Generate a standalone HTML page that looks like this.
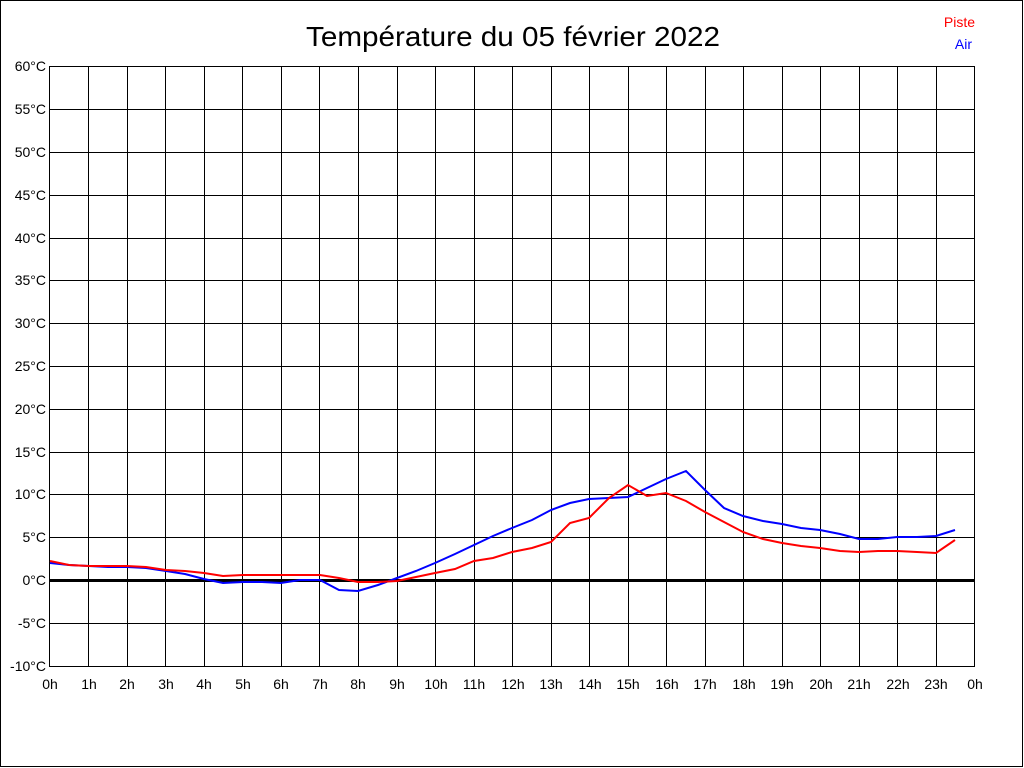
<!DOCTYPE html>
<html><head><meta charset="utf-8"><style>html,body{margin:0;padding:0;background:#fff}svg{display:block}</style></head>
<body>
<svg width="1024" height="768" viewBox="0 0 1024 768" xmlns="http://www.w3.org/2000/svg" font-family="Liberation Sans, Arial, sans-serif">
<rect x="0.5" y="0.5" width="1022" height="766" fill="#fff" stroke="#000" stroke-width="1"/>
<text x="513" y="46" font-size="28" text-anchor="middle" textLength="414" lengthAdjust="spacingAndGlyphs">Température du 05 février 2022</text>
<text x="975" y="27" font-size="14" fill="#f00" text-anchor="end">Piste</text>
<text x="972" y="49" font-size="14" fill="#00f" text-anchor="end">Air</text>
<g stroke="#000" stroke-width="1" shape-rendering="crispEdges">
<line x1="49.5" y1="66" x2="49.5" y2="666"/>
<line x1="88.5" y1="66" x2="88.5" y2="666"/>
<line x1="127.5" y1="66" x2="127.5" y2="666"/>
<line x1="165.5" y1="66" x2="165.5" y2="666"/>
<line x1="204.5" y1="66" x2="204.5" y2="666"/>
<line x1="242.5" y1="66" x2="242.5" y2="666"/>
<line x1="281.5" y1="66" x2="281.5" y2="666"/>
<line x1="319.5" y1="66" x2="319.5" y2="666"/>
<line x1="358.5" y1="66" x2="358.5" y2="666"/>
<line x1="397.5" y1="66" x2="397.5" y2="666"/>
<line x1="435.5" y1="66" x2="435.5" y2="666"/>
<line x1="474.5" y1="66" x2="474.5" y2="666"/>
<line x1="512.5" y1="66" x2="512.5" y2="666"/>
<line x1="551.5" y1="66" x2="551.5" y2="666"/>
<line x1="589.5" y1="66" x2="589.5" y2="666"/>
<line x1="628.5" y1="66" x2="628.5" y2="666"/>
<line x1="666.5" y1="66" x2="666.5" y2="666"/>
<line x1="705.5" y1="66" x2="705.5" y2="666"/>
<line x1="743.5" y1="66" x2="743.5" y2="666"/>
<line x1="782.5" y1="66" x2="782.5" y2="666"/>
<line x1="820.5" y1="66" x2="820.5" y2="666"/>
<line x1="859.5" y1="66" x2="859.5" y2="666"/>
<line x1="897.5" y1="66" x2="897.5" y2="666"/>
<line x1="936.5" y1="66" x2="936.5" y2="666"/>
<line x1="974.5" y1="66" x2="974.5" y2="666"/>
<line x1="49" y1="66.5" x2="975" y2="66.5"/>
<line x1="49" y1="109.5" x2="975" y2="109.5"/>
<line x1="49" y1="152.5" x2="975" y2="152.5"/>
<line x1="49" y1="195.5" x2="975" y2="195.5"/>
<line x1="49" y1="238.5" x2="975" y2="238.5"/>
<line x1="49" y1="280.5" x2="975" y2="280.5"/>
<line x1="49" y1="323.5" x2="975" y2="323.5"/>
<line x1="49" y1="366.5" x2="975" y2="366.5"/>
<line x1="49" y1="409.5" x2="975" y2="409.5"/>
<line x1="49" y1="452.5" x2="975" y2="452.5"/>
<line x1="49" y1="494.5" x2="975" y2="494.5"/>
<line x1="49" y1="537.5" x2="975" y2="537.5"/>
<line x1="49" y1="623.5" x2="975" y2="623.5"/>
<line x1="49" y1="666.5" x2="975" y2="666.5"/>
<line x1="49" y1="580.5" x2="975" y2="580.5" stroke-width="3"/>
</g>
<g font-size="14" text-anchor="end">
<text x="46" y="71">60°C</text><text x="46" y="114">55°C</text><text x="46" y="157">50°C</text>
<text x="46" y="200">45°C</text><text x="46" y="243">40°C</text><text x="46" y="285">35°C</text>
<text x="46" y="328">30°C</text><text x="46" y="371">25°C</text><text x="46" y="414">20°C</text>
<text x="46" y="457">15°C</text><text x="46" y="499">10°C</text><text x="46" y="542">5°C</text>
<text x="46" y="585">0°C</text><text x="46" y="628">-5°C</text><text x="46" y="671">-10°C</text>
</g>
<g font-size="14" text-anchor="middle">
<text x="50" y="689">0h</text><text x="89" y="689">1h</text><text x="127" y="689">2h</text>
<text x="166" y="689">3h</text><text x="204" y="689">4h</text><text x="243" y="689">5h</text>
<text x="281" y="689">6h</text><text x="320" y="689">7h</text><text x="358" y="689">8h</text>
<text x="397" y="689">9h</text><text x="436" y="689">10h</text><text x="474" y="689">11h</text>
<text x="513" y="689">12h</text><text x="551" y="689">13h</text><text x="590" y="689">14h</text>
<text x="628" y="689">15h</text><text x="667" y="689">16h</text><text x="705" y="689">17h</text>
<text x="744" y="689">18h</text><text x="782" y="689">19h</text><text x="821" y="689">20h</text>
<text x="859" y="689">21h</text><text x="898" y="689">22h</text><text x="936" y="689">23h</text>
<text x="975" y="689">0h</text>
</g>
<polyline fill="none" stroke="#00f" stroke-width="2" points="50,563 69,565 89,566 108,567 127,567 146,568 166,571 185,574 204,579 223,583 243,582 262,582 281,583 300,580 320,580 339,590 358,591 378,585 397,578 416,571 435,563 455,554 474,545 493,536 512,528 532,520 551,510 570,503 589,499 609,498 628,497 647,488 666,479 686,471 705,490 724,508 743,516 763,521 782,524 801,528 820,530 840,534 859,539 878,539 897,537 917,537 936,536 955,530"/>
<polyline fill="none" stroke="#f00" stroke-width="2" points="50,561 69,565 89,566 108,566 127,566 146,567 166,570 185,571 204,573 223,576 243,575 262,575 281,575 300,575 320,575 339,578 358,582 378,582 397,581 416,577 435,573 455,569 474,561 493,558 512,552 532,548 551,542 570,523 589,518 609,498 628,485 647,496 666,493 686,501 705,512 724,522 743,532 763,539 782,543 801,546 820,548 840,551 859,552 878,551 897,551 917,552 936,553 955,540"/>
</svg>
</body></html>
